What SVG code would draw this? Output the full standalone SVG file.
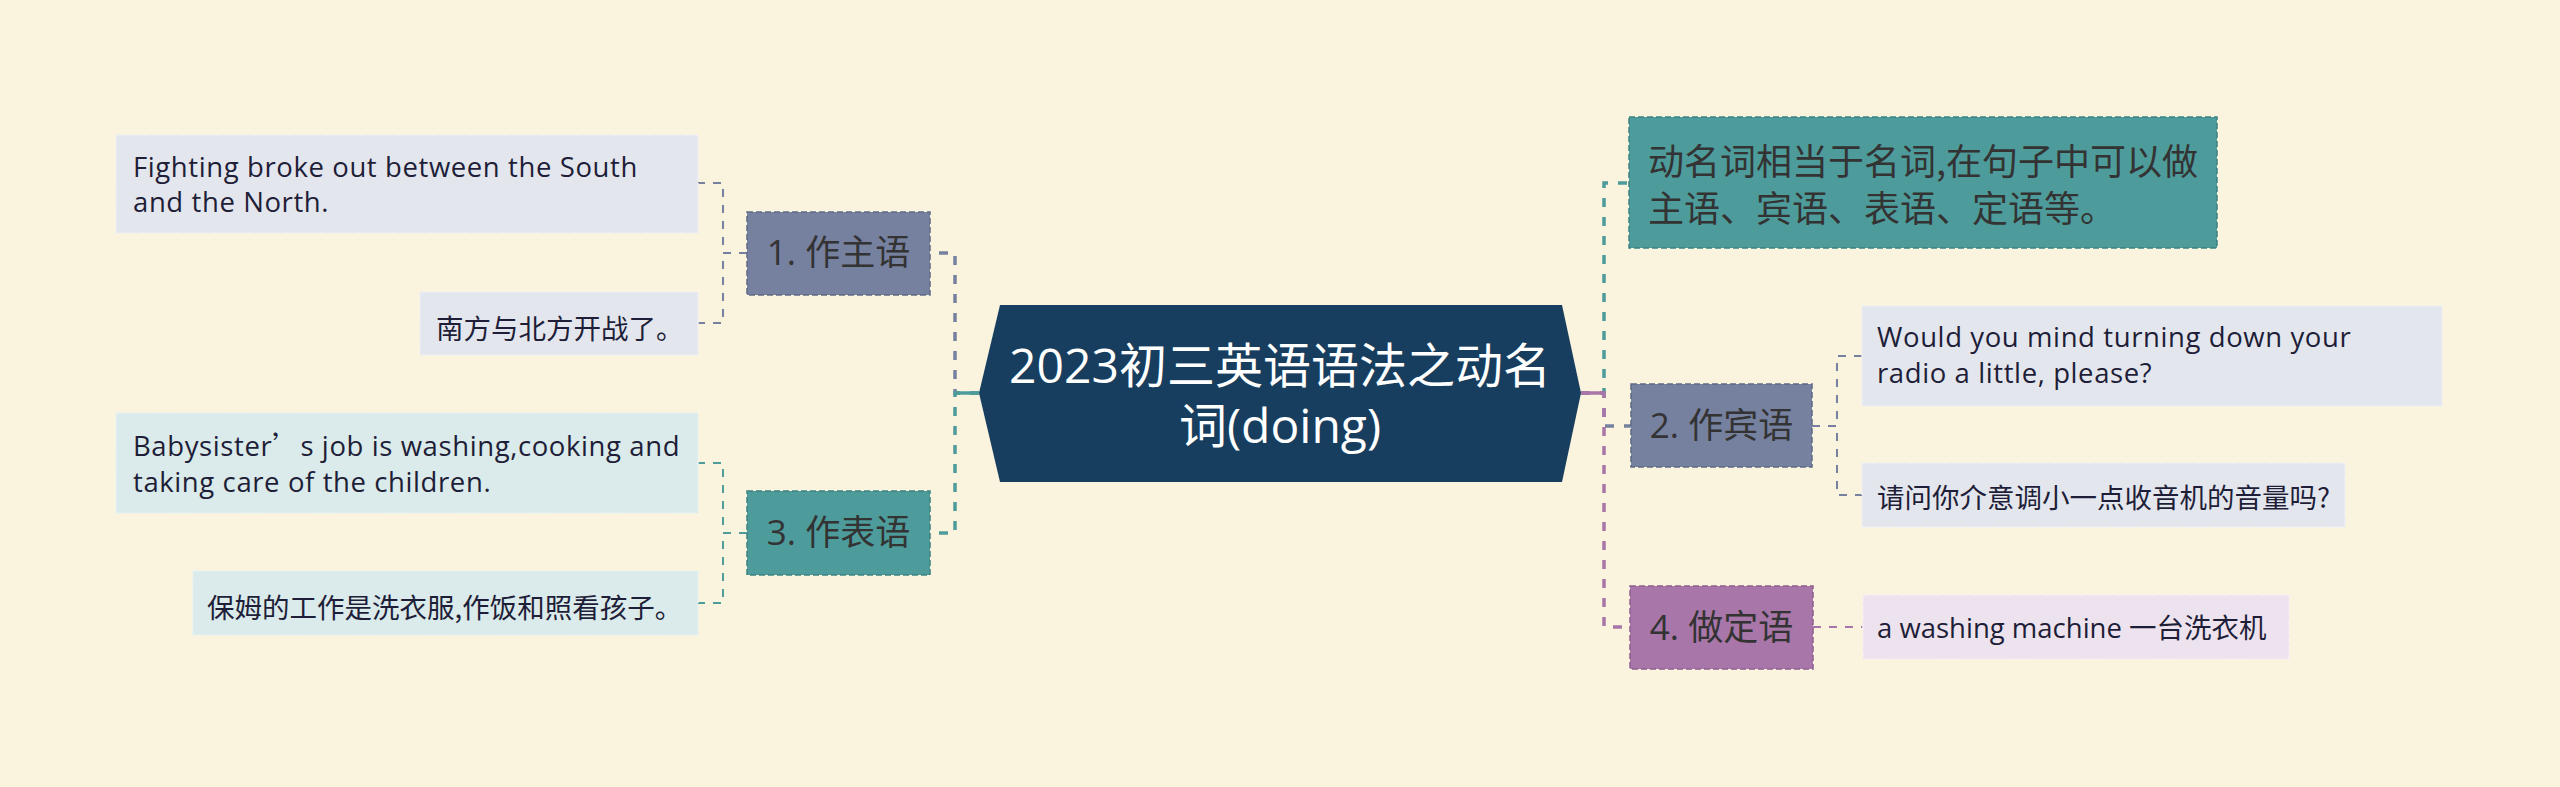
<svg xmlns="http://www.w3.org/2000/svg" width="2560" height="787" viewBox="0 0 2560 787">
<style>
.bg{fill:#faf4df}
.lat{font-family:"Open Sans","Noto Sans CJK SC",sans-serif}
.cjk{font-family:"Noto Sans CJK SC",sans-serif}
.leaf{font-size:27.5px;fill:#1e1e38}
.sp{letter-spacing:0.6px}
.topic{font-size:35px;fill:#333333}
.def{font-size:36px;fill:#333333}
.title{font-size:48px;fill:#ffffff}
.tb{stroke-width:1.5;stroke-dasharray:6 3}
.lb{stroke-width:1.5;stroke-dasharray:6 3}
.main{fill:none;stroke-width:3.5;stroke-dasharray:9 10}
.sub{fill:none;stroke-width:2;stroke-dasharray:8 8}
</style>
<rect class="bg" x="0" y="0" width="2560" height="787"/>

<g id="connectors">
  <path class="main" stroke="#76809f" d="M979,393 H955 V253 H930"/>
  <path class="main" stroke="#4e9b9b" d="M979,393 H955 V533 H930"/>
  <line x1="955" y1="393" x2="979" y2="393" stroke="#4e9b9b" stroke-width="3.5"/>
  <path class="main" stroke="#4e9b9b" d="M1581,393 H1604 V183 H1629"/>
  <path class="main" stroke="#76809f" d="M1581,393 H1604 V426 H1631"/>
  <path class="main" stroke="#a876a8" d="M1581,393 H1604 V627 H1630"/>
  <line x1="1581" y1="393" x2="1604" y2="393" stroke="#a876a8" stroke-width="3.5"/>
  <path class="sub" stroke="#76809f" d="M747,253 H723 V183 H698"/>
  <path class="sub" stroke="#76809f" d="M747,253 H723 V323 H698"/>
  <path class="sub" stroke="#4e9b9b" d="M747,533 H723 V463 H698"/>
  <path class="sub" stroke="#4e9b9b" d="M747,533 H723 V603 H698"/>
  <path class="sub" stroke="#76809f" d="M1812,426 H1837 V356 H1862"/>
  <path class="sub" stroke="#76809f" d="M1812,426 H1837 V495 H1862"/>
  <path class="sub" stroke="#a876a8" d="M1813,627 H1863"/>
</g>

<g id="center">
  <polygon points="1000,305 1562,305 1581,393 1562,482 1000,482 979,393" fill="#173e5e"/>
  <text class="lat title" x="1280" y="383" text-anchor="middle">2023初三英语语法之动名</text>
  <text class="lat title" x="1280" y="443" text-anchor="middle">词(doing)</text>
</g>

<g id="topic1">
  <rect class="tb" x="747" y="212" width="183" height="83" fill="#76809f" stroke="#5f6987"/>
  <text class="lat topic" x="838.5" y="265" text-anchor="middle">1. 作主语</text>
</g>
<g id="topic3">
  <rect class="tb" x="747" y="491" width="183" height="84" fill="#4e9b9b" stroke="#3c8282"/>
  <text class="lat topic" x="838.5" y="545" text-anchor="middle">3. 作表语</text>
</g>
<g id="topic-def">
  <rect class="tb" x="1629" y="117" width="588" height="131" fill="#4e9b9b" stroke="#3c8282"/>
  <text class="cjk def" x="1648" y="175">动名词相当于名词,在句子中可以做</text>
  <text class="cjk def" x="1648" y="222">主语、宾语、表语、定语等。</text>
</g>
<g id="topic2">
  <rect class="tb" x="1631" y="384" width="181" height="83" fill="#76809f" stroke="#5f6987"/>
  <text class="lat topic" x="1721.5" y="438" text-anchor="middle">2. 作宾语</text>
</g>
<g id="topic4">
  <rect class="tb" x="1630" y="586" width="183" height="83" fill="#a876a8" stroke="#8e5e8e"/>
  <text class="lat topic" x="1721.5" y="640" text-anchor="middle">4. 做定语</text>
</g>

<g id="leaf1a">
  <rect class="lb" x="116" y="135" width="582" height="98" fill="#e4e6ee" stroke="#eef0f5"/>
  <text class="lat leaf sp" x="133" y="177">Fighting broke out between the South</text>
  <text class="lat leaf sp" x="133" y="212">and the North.</text>
</g>
<g id="leaf1b">
  <rect class="lb" x="420" y="292" width="278" height="63" fill="#e4e6ee" stroke="#eef0f5"/>
  <text class="cjk leaf" x="436" y="339">南方与北方开战了。</text>
</g>
<g id="leaf3a">
  <rect class="lb" x="116" y="413" width="582" height="100" fill="#dbeaea" stroke="#e8f2f2"/>
  <text class="lat leaf sp" x="133" y="456">Babysister<tspan class="cjk">’</tspan>s job is washing,cooking and</text>
  <text class="lat leaf sp" x="133" y="492">taking care of the children.</text>
</g>
<g id="leaf3b">
  <rect class="lb" x="193" y="571" width="505" height="64" fill="#dbeaea" stroke="#e8f2f2"/>
  <text class="cjk leaf" x="207" y="618">保姆的工作是洗衣服,作饭和照看孩子。</text>
</g>
<g id="leaf2a">
  <rect class="lb" x="1862" y="306" width="580" height="100" fill="#e4e6ee" stroke="#eef0f5"/>
  <text class="lat leaf sp" x="1877" y="347">Would you mind turning down your</text>
  <text class="lat leaf sp" x="1877" y="383">radio a little, please?</text>
</g>
<g id="leaf2b">
  <rect class="lb" x="1862" y="463" width="483" height="64" fill="#e4e6ee" stroke="#eef0f5"/>
  <text class="cjk leaf" x="1877" y="508">请问你介意调小一点收音机的音量吗?</text>
</g>
<g id="leaf4">
  <rect class="lb" x="1863" y="595" width="426" height="64" fill="#ede3ee" stroke="#f5eef6"/>
  <text class="lat leaf" x="1877" y="638" fill="#2e1a2e">a washing machine 一台洗衣机</text>
</g>
</svg>
